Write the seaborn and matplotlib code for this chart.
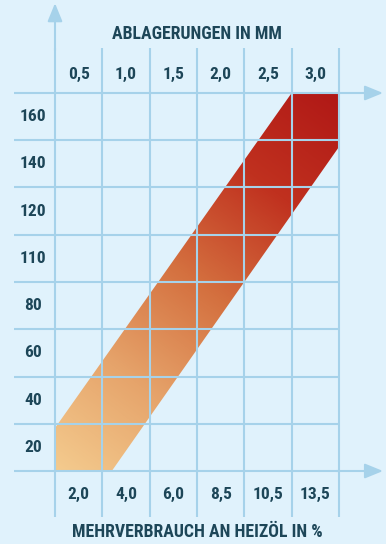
import numpy as np
import seaborn as sns
import matplotlib.pyplot as plt
from matplotlib.patches import Polygon

# Labels of the chart
top_labels = ["0,5", "1,0", "1,5", "2,0", "2,5", "3,0"]
bottom_labels = ["2,0", "4,0", "6,0", "8,5", "10,5", "13,5"]
row_labels = ["160", "140", "120", "110", "80", "60", "40", "20"]
top_title = "ABLAGERUNGEN IN MM"
bottom_title = "MEHRVERBRAUCH AN HEIZÖL IN %"

# Band corners in grid units (column, row)
band_x = [0, 0, 5, 6, 6, 1.2]
band_y = [0, 0.91, 8, 8, 6.86, 0]

# Colours
bg = "#E0F2FC"
grid_col = "#A6D2EA"
text_col = "#1D4658"
band_colors = ["#F4CB8E", "#E6A46B", "#D4703F", "#C0311F", "#B01816"]

sns.set_style("white", {"axes.facecolor": bg, "figure.facecolor": bg})
plt.rcParams['font.family'] = ['Roboto Condensed', 'Open Sans Condensed',
                               'Liberation Sans Narrow', 'DejaVu Sans']
plt.rcParams['font.stretch'] = 'condensed'

n_cols = len(top_labels)
n_rows = len(row_labels)

fig = plt.figure(figsize=(3.86, 5.44), dpi=100)
ax = fig.add_axes([0, 0, 1, 1])
ax.set_xlim(-55 / 47.33, (386 - 55) / 47.33)
ax.set_ylim(-(544 - 471) / 47.25, 471 / 47.25)
ax.axis("off")

# Gradient band
cmap = sns.blend_palette(band_colors, as_cmap=True)
gx, gy = np.meshgrid(np.linspace(0, n_cols, 300), np.linspace(0, n_rows, 400))
t = (gx * n_cols + gy * n_rows) / (n_cols ** 2 + n_rows ** 2)
band = Polygon(list(zip(band_x, band_y)), closed=True, facecolor="none", edgecolor="none")
ax.add_patch(band)
im = ax.imshow(t, cmap=cmap, origin="lower", extent=(0, n_cols, 0, n_rows),
               aspect="auto", vmin=0, vmax=1, zorder=1)
im.set_clip_path(band)

# Grid
ax.hlines(np.arange(n_rows + 1), -0.866, n_cols, color=grid_col, lw=1.5, zorder=2)
ax.vlines(np.arange(n_cols + 1), -0.97, 8.95, color=grid_col, lw=1.5, zorder=2)

# Axis arrows
arrow = dict(arrowstyle="-|>,head_length=1.1,head_width=0.45", color=grid_col, lw=1.5,
             shrinkA=0, shrinkB=0)
ax.annotate("", xy=(0, 9.9), xytext=(0, 8.9), arrowprops=arrow, zorder=2)
ax.annotate("", xy=(6.93, n_rows), xytext=(n_cols - 0.05, n_rows), arrowprops=arrow, zorder=2)
ax.annotate("", xy=(6.93, 0), xytext=(n_cols - 0.05, 0), arrowprops=arrow, zorder=2)

# Labels
kw = dict(color=text_col, fontweight="bold", ha="center", va="center", fontsize=12.5)
for i, lab in enumerate(top_labels):
    ax.text(i + 0.5, 8.4, lab, **kw)
for i, lab in enumerate(bottom_labels):
    ax.text(i + 0.5, -0.5, lab, **kw)
for i, lab in enumerate(row_labels):
    ax.text(-0.47, n_rows - i - 0.5, lab, **kw)

ax.text(3.0, 9.25, top_title, color=text_col, fontweight="bold", ha="center",
        va="center", fontsize=12.8)
ax.text(3.0, -1.29, bottom_title, color=text_col, fontweight="bold", ha="center",
        va="center", fontsize=12.8)

fig.savefig("out.png", dpi=100, facecolor=bg)
